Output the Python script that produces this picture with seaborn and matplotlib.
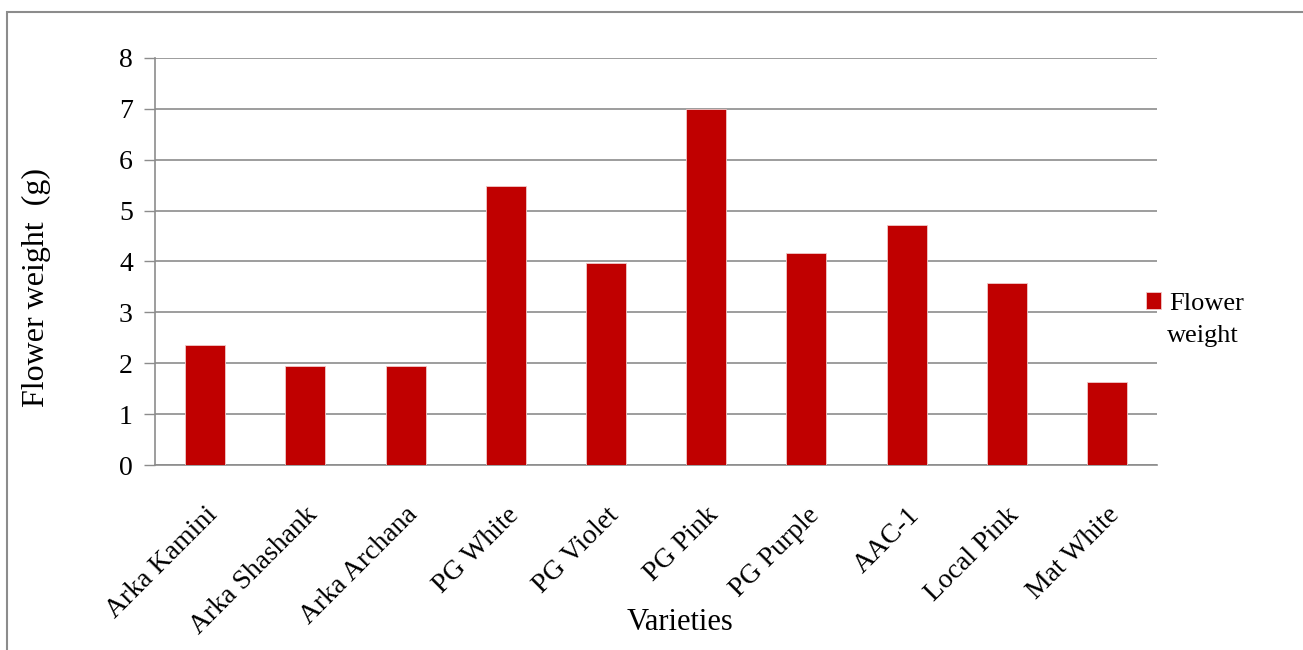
import matplotlib
matplotlib.use("Agg")
import matplotlib.pyplot as plt
import seaborn as sns
import pandas as pd
from matplotlib.patches import Rectangle

varieties = ["Arka Kamini", "Arka Shashank", "Arka Archana", "PG White", "PG Violet",
             "PG Pink", "PG Purple", "AAC-1", "Local Pink", "Mat White"]
flower_weight = [2.36, 1.94, 1.95, 5.48, 3.97, 6.99, 4.16, 4.72, 3.58, 1.63]
y_ticks = [0, 1, 2, 3, 4, 5, 6, 7, 8]

sns.set_theme(style="white")
plt.rcParams["font.family"] = ["Liberation Serif", "DejaVu Serif"]
plt.rcParams["text.color"] = "black"
plt.rcParams["axes.labelcolor"] = "black"
plt.rcParams["xtick.labelcolor"] = "black"
plt.rcParams["ytick.labelcolor"] = "black"

df = pd.DataFrame({"Varieties": varieties, "Flower weight": flower_weight})

fig = plt.figure(figsize=(13.03, 6.5), dpi=100)
ax = fig.add_axes([0.119, 0.2846, 0.769, 0.6262])

sns.barplot(data=df, x="Varieties", y="Flower weight", color="#C00000",
            width=0.4, ax=ax, label="Flower", saturation=1,
            edgecolor="#f0c8c8", linewidth=0.6, zorder=3)

ax.set_ylim(0, 8)
ax.set_xlim(-0.5, len(varieties) - 0.5)
ax.set_yticks(y_ticks)
ax.set_yticklabels([str(t) for t in y_ticks], fontsize=20)
ax.yaxis.grid(True, color="#8c8c8c", linewidth=1.2, zorder=0)
ax.set_axisbelow(True)

# category labels at centers, tick marks at category boundaries
ax.set_xticks(range(len(varieties)))
ax.set_xticklabels(varieties, fontsize=20, rotation=45, ha="right", rotation_mode="anchor")
ax.tick_params(axis="x", length=0, pad=27)
ax.set_xticks([i - 0.5 for i in range(len(varieties) + 1)], minor=True)
ax.tick_params(axis="x", which="minor", length=8, color="#8c8c8c", width=1, direction="out")
ax.tick_params(axis="y", length=8, color="#8c8c8c", width=1, direction="out", pad=8, left=True)

for side in ["top", "right"]:
    ax.spines[side].set_visible(False)
for side in ["left", "bottom"]:
    ax.spines[side].set_color("#8c8c8c")
    ax.spines[side].set_linewidth(1.2)

ax.set_xlabel("Varieties", fontsize=22)
ax.xaxis.set_label_coords(0.524, -0.352)
ax.set_ylabel("Flower weight  (g)", fontsize=23)
ax.yaxis.set_label_coords(-0.104, 0.435)

leg = ax.legend(loc="upper left", bbox_to_anchor=(0.978, 0.45), frameon=False, fontsize=19,
                handlelength=0.6, handleheight=0.6, handletextpad=0.3, borderaxespad=0)
# second line of the legend entry sits under the text, not the marker
ax.text(1.0095, 0.318, "weight", transform=ax.transAxes, fontsize=19, va="center", ha="left")

# outer chart frame
fig.patches.append(Rectangle((7 / 1303, -0.1), 1.2, (650 - 12) / 650 + 0.1,
                             transform=fig.transFigure, fill=False,
                             edgecolor="#8c8c8c", linewidth=1.5))

fig.savefig("out.png", dpi=100)
